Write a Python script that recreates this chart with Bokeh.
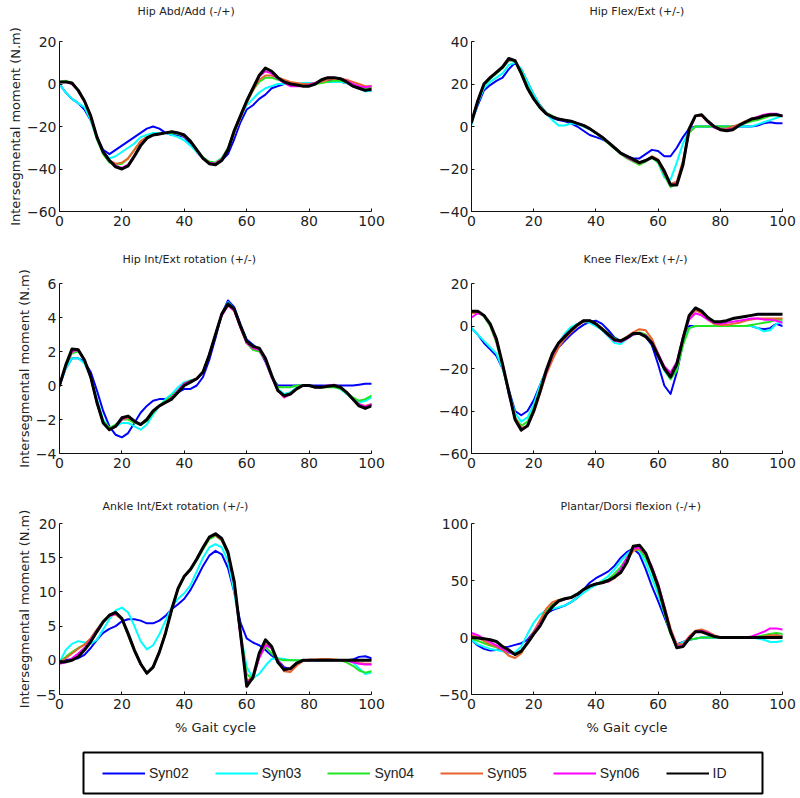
from bokeh.plotting import figure
from bokeh.layouts import column, row
from bokeh.models import Range1d, FixedTicker, Legend, LegendItem, Title
from bokeh.embed import file_html
from bokeh.resources import INLINE

# ---------------- data ----------------
GAIT = [0, 2, 4, 6, 8, 10, 12, 14, 16, 18, 20, 22, 24, 26, 28, 30, 32, 34, 36, 38,
        40, 42, 44, 46, 48, 50, 52, 54, 56, 58, 60, 62, 64, 66, 68, 70, 72, 74, 76, 78,
        80, 82, 84, 86, 88, 90, 92, 94, 96, 98, 100]
X_TICKS = [0, 20, 40, 60, 80, 100]
SERIES = ["Syn02", "Syn03", "Syn04", "Syn05", "Syn06", "ID"]
COLORS = ["#0000FF", "#00FFFF", "#22E622", "#E8642C", "#FF00FF", "#000000"]

# Hip Abd/Add
HA_SYN02 = [0,-4,-7,-9,-12,-17,-25,-31,-33,-31, -29,-27,-25,-23,-21,-20,-21,-23,-24,-24,
            -25,-28,-32,-35,-37,-38,-36,-33,-26,-18, -12,-10,-7,-5,-2,-1,0,0,0,0,
            0,0.5,1,1.5,1.5,1,0.5,-1,-2,-3, -3]
HA_SYN03 = [0,-4,-7,-9,-11,-17,-26,-32,-35,-34, -32,-30,-28,-25,-24,-23,-23,-23,-24,-25,
            -26.5,-29,-32,-35,-37,-37,-35,-31,-23,-16, -10,-7,-4,-2,-1,0,0,0,0,0.5,
            0.5,0.5,1,1,1,1,0.5,-1,-2,-3.5, -3]
HA_SYN04 = [1,1.5,0.5,-3,-8,-16,-26,-33,-37,-38, -37.5,-35,-31,-27,-25,-24,-23.5,-23,-23,-23.5,
            -24.5,-27,-31,-34.5,-36.5,-37,-35,-30,-22,-15, -8,-3,1,3,3,2,1,0.5,0,0,
            0,0,0.5,1,1.5,1.5,1,0,-1,-2, -1.5]
HA_SYN05 = [1,1,0,-3,-8,-15,-25,-32,-36,-37.5, -37,-35,-31,-27,-25,-24,-23.5,-23,-22.5,-23,
            -24.5,-27,-31,-35,-37,-37.5,-35.5,-31,-23,-16, -9,-3,2,4,4,3,2,1,0.5,0,
            0,0.5,1,2,2.5,2.5,2,1,0,-1, -1]
HA_SYN06 = [1,1,0,-3,-8,-15,-25,-32,-36,-38.5, -39.5,-38,-33.5,-28.5,-25.5,-24,-23.5,-23,-22.5,-23,
            -24.5,-27,-31,-35,-37,-37.5,-35.5,-30.5,-22,-15, -8,-2,3.5,6,5,2.5,0.5,-1,-1,-1,
            -0.5,0.5,2,3,3,2.5,1.5,0,-1,-1.5, -1]
HA_ID = [1,1,0.5,-3,-8,-15,-25,-32,-36,-39, -40,-38.5,-34,-29,-25.5,-24,-23.5,-23,-22.5,-23,
         -24,-27,-31,-35,-37.5,-38,-36,-31,-22,-15, -8,-2,4,7.5,6,3,1,0,-0.5,-1,
         -1,0,2,3,3,2.5,1,-1,-2,-3, -2.5]

# Hip Flex/Ext
HF_SYN02 = [2,10,17,19.5,21.5,23,27,30,27,21, 15,10,6.5,4,3,2.5,1.5,0,-2,-4,
            -5,-6,-7.5,-10,-12.5,-14,-15,-15,-13,-11, -11.5,-14,-14,-10,-5,-1,0,0,0,0,
            0,0,0,0,0,0,0.5,1.5,2,1.5, 1.5]
HF_SYN03 = [1,11,18,21,23,25,29,30,27,21, 15,10,6,3,0.5,0.5,1.5,1,0,-1.5,
            -3,-5,-7.5,-10,-12.5,-14.5,-16,-17,-16,-14.5, -17,-24,-25,-17,-8,-2,0,0,0,0,
            0,0,0,0,0,0,1,2,3,4, 5]
HF_SYN04 = [2,12,19.5,22.5,25,27.5,31,31,26,19, 13.5,9.5,6.5,5,3.5,3,2.5,1.5,0.5,-1,
            -3,-5.5,-8,-10.5,-13,-15,-16.5,-18,-16.5,-14.5, -17,-23,-28.5,-27,-17,-3,0,0,0,0,
            0,0,0,0.5,1.5,2.5,3,4,5,5.5, 5]
HF_SYN05 = [2,12,20,23,25.5,28,31.5,31,25,18, 13,9,6,4.5,3.5,3,2.5,1.5,0.5,-1,
            -3,-5,-7.5,-10,-12.5,-14.5,-16,-17.5,-16,-14, -15.5,-21,-27,-26,-16,-2,5,5,2,0,
            -1,-1,0,1,2.5,3.5,4.5,5,5.5,5.5, 5]
HF_SYN06 = [2,12,20,23,25.5,28,31.5,31,25,18, 13,9,6,4.5,3.5,3,2.5,1.5,0.5,-1,
            -3,-5,-7.5,-10,-12.5,-14.5,-16,-17,-16,-14.5, -16,-22,-27.5,-27,-18,-2,5,5.5,2,-0.5,
            -1.5,-1.5,-1,0.5,2,3.5,4.5,5.5,6,6, 5]
HF_ID = [2,12,20,23,25.5,28,32,31,25,18, 13,9,6,4.5,3.5,3,2.5,1.5,0.5,-1,
         -3,-5,-7.5,-10,-12.5,-14,-15.5,-17,-16,-14.5, -16,-21,-27.5,-27.5,-18,-1,5,5.5,2.5,0,
         -1.5,-2,-1.5,0.5,2,3.5,4,5,5.5,5.5, 5]

# Hip Int/Ext rotation
HR_SYN02 = [0,1.0,1.6,1.6,1.4,0.8,-0.3,-1.5,-2.4,-2.9, -3.05,-2.8,-2.2,-1.6,-1.2,-0.9,-0.8,-0.8,-0.6,-0.4,
            -0.2,-0.2,0.0,0.5,1.5,2.8,4.2,5.0,4.6,3.6, 2.7,2.4,2.1,1.4,0.5,0.0,0.0,0.0,0.0,0.0,
            0.0,0.0,0.0,0.0,0.0,0.0,0.0,0.0,0.05,0.1, 0.1]
HR_SYN03 = [0,1.0,1.6,1.6,1.3,0.5,-0.8,-2.0,-2.5,-2.4, -2.2,-2.2,-2.4,-2.6,-2.3,-1.7,-1.2,-0.8,-0.5,-0.1,
            0.2,0.3,0.4,0.8,1.8,3.0,4.2,4.9,4.5,3.5, 2.6,2.3,2.1,1.6,0.5,-0.2,-0.5,-0.4,-0.1,0.0,
            0.0,-0.1,-0.1,0.0,0.0,-0.2,-0.5,-0.8,-1.0,-0.9, -0.7]
HR_SYN04 = [0,1.2,1.9,2.0,1.5,0.5,-1.0,-2.1,-2.5,-2.3, -2.0,-2.0,-2.2,-2.3,-2.1,-1.6,-1.2,-0.9,-0.6,-0.3,
            0.1,0.3,0.4,0.8,1.8,3.0,4.2,4.8,4.5,3.4, 2.5,2.1,2.0,1.5,0.5,-0.1,-0.1,-0.1,0.0,0.0,
            0.0,-0.1,-0.1,-0.1,-0.1,-0.2,-0.4,-0.7,-0.9,-0.8, -0.6]
HR_SYN05 = [0,1.2,2.0,2.1,1.5,0.5,-1.0,-2.2,-2.6,-2.4, -2.0,-1.9,-2.1,-2.3,-2.0,-1.5,-1.2,-1.0,-0.7,-0.3,
            0.1,0.25,0.4,0.8,1.8,3.0,4.2,4.7,4.4,3.4, 2.5,2.2,2.1,1.5,0.5,-0.3,-0.7,-0.5,-0.2,0.0,
            0.0,-0.1,-0.1,0.0,0.0,-0.1,-0.4,-0.8,-1.1,-1.2, -1.1]
HR_SYN06 = [0,1.2,2.0,2.1,1.5,0.5,-1.0,-2.2,-2.6,-2.4, -2.0,-1.8,-2.1,-2.3,-2.0,-1.5,-1.2,-1.0,-0.7,-0.3,
            0.1,0.25,0.4,0.8,1.8,3.0,4.1,4.7,4.4,3.4, 2.5,2.2,2.1,1.5,0.5,-0.3,-0.7,-0.5,-0.2,0.0,
            0.0,-0.1,-0.1,0.0,0.05,-0.1,-0.4,-0.8,-1.1,-1.25, -1.1]
HR_ID = [0,1.2,2.15,2.1,1.5,0.5,-1.0,-2.2,-2.6,-2.4, -1.9,-1.8,-2.1,-2.3,-2.0,-1.5,-1.2,-1.0,-0.8,-0.4,
         0.0,0.2,0.4,0.8,1.8,3.0,4.2,4.8,4.5,3.5, 2.6,2.3,2.2,1.6,0.6,-0.3,-0.6,-0.5,-0.2,0.0,
         0.0,-0.1,-0.1,-0.05,0.0,-0.1,-0.4,-0.8,-1.2,-1.35, -1.2]

# Knee Flex/Ext
KF_SYN02 = [-1,-4,-8,-11,-14,-20,-30,-40,-42,-40, -35,-28,-21,-15,-10,-7,-4,-1.5,0.5,2,
            2.5,1,-2,-5.5,-7,-6,-4,-3.5,-5,-9, -18,-28,-32,-22,-8,0,0,0,0,0,
            0,0,0,0,0,0,-1,-1.5,-1,1, 0]
KF_SYN03 = [-1,-4,-7,-10,-13,-20,-31,-41,-45,-43, -37,-28,-21,-14,-8,-3.5,-0.5,1,2,1.5,
            0,-2,-5,-8,-8.5,-6,-4,-3.5,-5,-8, -14,-21,-25,-19,-7,-1,0,0,0,0,
            0,0,0,0,0,0,-1,-2.5,-2,1, 2]
KF_SYN04 = [6,6.5,4.5,0,-8,-19,-32,-43,-47,-45, -39,-30,-21,-14,-8,-5,-2,0.5,2.5,2.5,
            1,-1,-3.5,-6,-7,-5.5,-3.5,-3,-4,-7, -13,-20,-25,-21,-9,-1,0,0,0,0,
            0,0,0,0,0,0.5,1,1.5,2,3, 3]
KF_SYN05 = [6,6.5,5,1,-7,-18,-31,-43,-48,-47, -41,-32,-23,-16,-10,-6,-3,0,2,2.5,
            1,-1,-4,-7,-7,-5,-3,-1.5,-2,-6, -13,-20,-23,-18,-5,4,7.5,6,3,1,
            0.5,0.5,1,1.5,2.5,3,3.5,3.5,3.5,3.5, 3.5]
KF_SYN06 = [4,6,5,1,-7,-18,-32,-44,-49,-47, -40,-31,-22,-14,-8,-4.5,-2,0.5,2.5,2.5,
            1,-1.5,-4.5,-7,-7.5,-6,-4,-3.5,-4.5,-7.5, -13,-19,-22,-17,-5,3,6,5,3,1.5,
            1,1.5,2,2.5,3,3.5,3.5,3,3,2.5, 1.5]
KF_ID = [7,7,5,1,-6,-18,-31,-44,-49,-47, -40,-31,-21,-13,-8,-5,-2,0.5,2.5,2.5,
         1,-1.5,-4,-6.5,-7,-5.5,-3.5,-3.5,-5,-8, -14,-20,-24,-18,-6,5,8.5,7,4,2,
         2,2.5,3.5,4,4.5,5,5.5,5.5,5.5,5.5, 5.5]

# Ankle Int/Ext rotation
AR_SYN02 = [-0.3,0,0.2,0.3,0.8,1.8,3.0,4.0,4.6,5.0, 5.7,6.0,6.0,5.8,5.4,5.4,5.8,6.5,7.5,8.2,
            9.0,10.3,12.0,13.8,15.3,16.0,15.5,13.5,10.0,5.5, 3.2,2.6,2.2,1.5,0.7,0.0,-1.0,-1.3,-0.6,0,
            0,0,0,0,0,0,0,0.1,0.5,0.6, 0.3]
AR_SYN03 = [-0.3,1.5,2.4,2.8,2.6,2.4,3.0,4.5,6.0,7.3, 7.7,7.0,5.0,2.8,1.6,2.2,3.8,5.8,7.8,9.0,
            9.8,11.0,13.0,15.0,16.5,17.0,16.5,14.5,10.0,4.0, -1.0,-2.6,-2.0,-0.8,0.2,0.3,0.2,0,0,0,
            0,0,0,0,0,0,0,-0.3,-1.2,-2.0, -1.8]
AR_SYN04 = [-0.3,0.5,1.2,1.8,2.3,3.2,4.5,5.8,6.6,6.9, 6.0,3.6,1.3,-0.5,-1.8,-1.0,1.2,4.0,7.5,10.5,
            12.2,13.2,14.6,16.2,17.7,18.2,17.5,15.5,11.5,4.0, -2.0,-2.8,0.5,2.0,1.0,0.2,0,0,0,0,
            0,0,0,0,0,0,-0.3,-0.8,-1.5,-1.8, -1.6]
AR_SYN05 = [-0.3,0.3,1.0,1.7,2.3,3.2,4.5,5.7,6.5,6.7, 6.0,3.8,1.4,-0.6,-1.9,-1.0,1.2,4.0,7.5,10.5,
            12.3,13.3,14.8,16.5,18.0,18.3,17.6,15.6,11.3,3.8, -3.0,-2.5,0.5,2.4,1.8,0.0,-1.6,-1.7,-0.8,-0.1,
            0.1,0.1,0.2,0.2,0.1,0,0,-0.2,-0.4,-0.5, -0.5]
AR_SYN06 = [-0.5,-0.3,0.3,1.0,1.8,3.0,4.4,5.7,6.5,6.8, 6.1,3.8,1.4,-0.6,-1.9,-1.0,1.2,4.0,7.5,10.5,
            12.3,13.3,14.8,16.5,18.0,18.4,17.7,15.7,11.3,3.5, -3.2,-2.6,0.3,2.2,1.8,0,-1.3,-1.2,-0.4,0.0,
            0,0,0,0,0,0,0,-0.3,-0.5,-0.6, -0.6]
AR_ID = [-0.3,-0.2,0,0.5,1.5,2.7,4.2,5.6,6.6,7.0, 6.1,3.9,1.5,-0.5,-1.9,-1.0,1.2,4.0,7.5,10.5,
         12.3,13.3,14.8,16.5,18.0,18.5,17.8,15.8,11.5,4.0, -3.8,-2.5,1.0,3.0,2.0,-0.3,-1.4,-1.2,-0.4,0.0,
         0,0,0,0,0,0,0,0,0,0, 0]

# Plantar/Dorsi flexion
PD_SYN02 = [-2,-7,-10,-11.5,-11,-9,-8,-6.5,-5,-2, 5,14,21,24,26,28,31,35,42,48,
            52,55,58,63,70,75,78,73,60,45, 32,18,4,-6,-4,-2,-1,0,0,0,
            0,0,0,0,0,0,0,0.5,1,2, 1]
PD_SYN03 = [-2,-6,-8,-10,-11,-12,-14,-13,-8,3, 13,20,24,25,26.5,28,31,35,39,43,
            46,50,54,60,67,73,78,76,66,52, 38,21,4,-7,-4,-2,-1,0,0,0,
            0,0,0,0,0,0,-1,-2,-4,-4, -3]
PD_SYN04 = [-1,-3,-5,-7,-8.5,-10,-13,-15,-13,-5, 3,12,22,29,33,34,35,38,42,45,
            47,49,51,56,62,70,77,77,70,58, 42,22,3,-7,-6,-2,-1,0,0,0,
            0,0,0,0,0,0.5,1,2,3,4, 3]
PD_SYN05 = [2,0,-3,-6,-8,-11,-16,-18,-14,-4, 5,15,25,31,33,33.5,35,38,42,45,
            47,48,49,52,58,68,76,78,73,62, 47,28,8,-6,-6,1,6,7,5,2,
            0,0,0,0,0,0,0,1,2,2, 1]
PD_SYN06 = [4,2,-1,-4,-7,-10,-13,-15,-12,-4, 4,12,20,27,32,33.5,35,38,42,45,
            47,48,49,53,60,70,78,79,73,62, 47,27,6,-8,-7,0,5,6,4,1,
            0,0,0,0,0,1,3,5,8,8, 7]
PD_ID = [0,-0.5,-1,-2,-3.5,-8,-11,-15,-12,-5, 3,10,20,27,32,34,35,38,42,45,
         47,48,50,53,57,66,80,81,74,60, 45,25,5,-9,-8,-1,5,5,3,1,
         0,0,0,0,0,0,0,0,0,0, 0]

PANELS = [
    ("Hip Abd/Add (-/+)", [HA_SYN02, HA_SYN03, HA_SYN04, HA_SYN05, HA_SYN06, HA_ID], (-60, 20), [-60, -40, -20, 0, 20]),
    ("Hip Flex/Ext (+/-)", [HF_SYN02, HF_SYN03, HF_SYN04, HF_SYN05, HF_SYN06, HF_ID], (-40, 40), [-40, -20, 0, 20, 40]),
    ("Hip Int/Ext rotation (+/-)", [HR_SYN02, HR_SYN03, HR_SYN04, HR_SYN05, HR_SYN06, HR_ID], (-4, 6), [-4, -2, 0, 2, 4, 6]),
    ("Knee Flex/Ext (+/-)", [KF_SYN02, KF_SYN03, KF_SYN04, KF_SYN05, KF_SYN06, KF_ID], (-60, 20), [-60, -40, -20, 0, 20]),
    ("Ankle Int/Ext rotation (+/-)", [AR_SYN02, AR_SYN03, AR_SYN04, AR_SYN05, AR_SYN06, AR_ID], (-5, 20), [-5, 0, 5, 10, 15, 20]),
    ("Plantar/Dorsi flexion (-/+)", [PD_SYN02, PD_SYN03, PD_SYN04, PD_SYN05, PD_SYN06, PD_ID], (-50, 100), [-50, 0, 50, 100]),
]

# ---------------- layout (pixels) ----------------
FONT = "DejaVu Sans"
TXT = "#222222"
COL_W = [400, 400]
COL_LEFT = [59, 71]
COL_FRAME_W = [312, 311]
ROW_H = [250, 240, 250]
ROW_TOP = [41, 33, 33]
ROW_FRAME_H = [170, 170, 171]
SPACER_STANDOFF = [5, 1, None]   # empty title panel between frame and title
TITLE_STANDOFF = [4, 0, 17]
TITLE_LEFT = [78, 118, 63, 112, 43, 89]


def make_panel(i):
    title, ys, (y0, y1), yticks = PANELS[i]
    r, c = divmod(i, 2)
    w, h = COL_W[c], ROW_H[r]
    fw, fh = COL_FRAME_W[c], ROW_FRAME_H[r]
    p = figure(width=w, height=h, x_range=Range1d(0, 100), y_range=Range1d(y0, y1),
               output_backend="svg", toolbar_location=None, title_location=None,
               min_border_left=COL_LEFT[c],
               min_border_right=w - COL_LEFT[c] - fw,
               min_border_top=ROW_TOP[r],
               min_border_bottom=h - ROW_TOP[r] - fh)
    if SPACER_STANDOFF[r] is not None:
        p.add_layout(Title(text=" ", standoff=SPACER_STANDOFF[r], text_font=FONT,
                           text_font_size="11px"), "above")
    p.add_layout(Title(text=title, align="left", offset=TITLE_LEFT[i],
                       standoff=TITLE_STANDOFF[r], vertical_align="top",
                       text_font=FONT, text_font_size="11px", text_font_style="normal",
                       text_color=TXT), "above")
    p.grid.visible = False
    p.outline_line_color = None
    p.xaxis.ticker = FixedTicker(ticks=X_TICKS)
    p.yaxis.ticker = FixedTicker(ticks=yticks)
    for ax in (p.xaxis[0], p.yaxis[0]):
        ax.minor_tick_line_color = None
        ax.major_tick_in = 3
        ax.major_tick_out = 0
        ax.axis_line_color = "#111111"
        ax.major_tick_line_color = "#111111"
        ax.major_label_text_font = FONT
        ax.major_label_text_font_size = "14px"
        ax.major_label_text_color = TXT
        ax.axis_label_text_font = FONT
        ax.axis_label_text_font_size = "13px"
        ax.axis_label_text_font_style = "normal"
        ax.axis_label_text_color = TXT
    p.yaxis.major_label_standoff = 3
    p.xaxis.major_label_standoff = 4
    if c == 0:
        p.yaxis.axis_label = "Intersegmental moment (N.m)"
        p.yaxis.axis_label_standoff = 1
    if r == 2:
        p.xaxis.axis_label = "% Gait cycle"
        p.xaxis.axis_label_standoff = 8
    for k, yv in enumerate(ys):
        p.line(GAIT, yv, line_color=COLORS[k], line_width=3 if SERIES[k] == "ID" else 2,
               line_join="round", line_cap="round")
    return p


figs = [make_panel(i) for i in range(6)]

# legend box (the sample lines sit outside the visible range; only the legend shows them)
LEG_LEFT, LEG_FRAME_W = 83, 679
lf = figure(width=800, height=58, x_range=Range1d(0, 1), y_range=Range1d(0, 1),
            output_backend="svg", toolbar_location=None,
            x_axis_location=None, y_axis_location=None,
            min_border_left=LEG_LEFT, min_border_right=800 - LEG_LEFT - LEG_FRAME_W,
            min_border_top=12, min_border_bottom=5)
lf.grid.visible = False
lf.outline_line_color = "black"
lf.outline_line_width = 2
items = []
for k, s in enumerate(SERIES):
    rr = lf.line(x=[-2, -1], y=[-2, -1], line_color=COLORS[k], line_width=2)
    items.append(LegendItem(label=s, renderers=[rr]))
leg = Legend(items=items, orientation="horizontal", location="left",
             border_line_color=None, background_fill_alpha=0,
             glyph_width=43, glyph_height=16, label_standoff=4, spacing=26,
             padding=10, margin=19,
             label_text_font="Liberation Sans",
             label_text_font_size="14px", label_text_color=TXT)
lf.add_layout(leg)

layout = column(row(figs[0], figs[1]), row(figs[2], figs[3]), row(figs[4], figs[5]), lf)

open("out.html", "w").write(file_html(layout, INLINE))
